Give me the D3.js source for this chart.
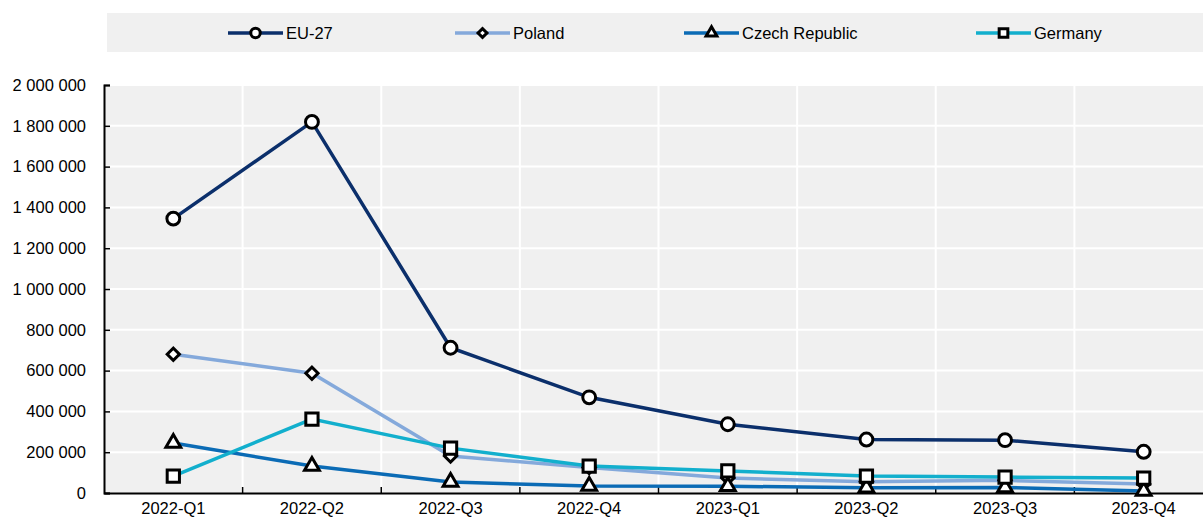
<!DOCTYPE html>
<html>
<head>
<meta charset="utf-8">
<script src="https://cdn.jsdelivr.net/npm/d3@7"></script>
<style>
  body { margin: 0; background: #fff; }
  text { font-family: "Liberation Sans", Arial, sans-serif; fill: #000; }
</style>
</head>
<body>
<div id="chart"></div>
<script>
// Data
const quarters = ["2022-Q1", "2022-Q2", "2022-Q3", "2022-Q4", "2023-Q1", "2023-Q2", "2023-Q3", "2023-Q4"];
const eu27 = [1345000, 1819000, 712000, 469000, 337000, 262000, 259000, 202000];
const poland = [680000, 587000, 181000, 125000, 73000, 55000, 62000, 44000];
const czech = [245000, 132000, 54000, 34000, 33000, 26000, 27000, 10000];
const germany = [83000, 362000, 220000, 132000, 108000, 83000, 78000, 73000];
const yTicks = [0, 200000, 400000, 600000, 800000, 1000000, 1200000, 1400000, 1600000, 1800000, 2000000];

// diamond = square turned 45 degrees
const series = [
    { name: "EU-27", values: eu27, color: "#0b2f6b", symbol: d3.symbolCircle, rot: 0, size: 130, legendSize: 70 },
    { name: "Poland", values: poland, color: "#84a9db", symbol: d3.symbolSquare, rot: 45, size: 75, legendSize: 40 },
    { name: "Czech Republic", values: czech, color: "#0b6bb5", symbol: d3.symbolTriangle, rot: 0, size: 95, legendSize: 50 },
    { name: "Germany", values: germany, color: "#12afcd", symbol: d3.symbolSquare, rot: 0, size: 150, legendSize: 75 },
];

const width = 1203;
const height = 518;
const margin = { top: 85, right: -10, bottom: 25, left: 104 };
const fontSize = 16.5;

const svg = d3.select("#chart")
    .append("svg")
    .attr("width", width)
    .attr("height", height);

// Scales
const x = d3.scaleBand()
    .domain(quarters)
    .range([margin.left, width - margin.right])
    .padding(0);

const y = d3.scaleLinear()
    .domain([0, 2000000])
    .range([height - margin.bottom, margin.top]);

// Plot background
svg.append("rect")
    .attr("x", margin.left)
    .attr("y", margin.top)
    .attr("width", width - margin.right - margin.left)
    .attr("height", y(0) - margin.top)
    .attr("fill", "#f0f0f0");

// Grid lines
svg.append("g")
    .selectAll("line")
    .data(yTicks.slice(1))
    .join("line")
    .attr("x1", margin.left)
    .attr("x2", width - margin.right)
    .attr("y1", d => y(d))
    .attr("y2", d => y(d))
    .attr("stroke", "#fff")
    .attr("stroke-width", 2);

svg.append("g")
    .selectAll("line")
    .data(quarters.slice(1))
    .join("line")
    .attr("x1", d => x(d))
    .attr("x2", d => x(d))
    .attr("y1", margin.top)
    .attr("y2", y(0))
    .attr("stroke", "#fff")
    .attr("stroke-width", 2);

// Axes
const fmt = d => d3.format(",")(d).replace(/,/g, " ");

const yAxis = svg.append("g")
    .attr("transform", `translate(${margin.left},0)`)
    .call(d3.axisLeft(y).tickValues(yTicks).tickFormat(fmt).tickSize(-6).tickPadding(18));
yAxis.attr("font-family", null).attr("font-size", fontSize);
yAxis.select(".domain").attr("stroke", "#000").attr("stroke-width", 2);
yAxis.selectAll(".tick line").attr("stroke", "#000").attr("stroke-width", 1.5);

const xAxis = svg.append("g")
    .attr("transform", `translate(0,${y(0)})`)
    .call(d3.axisBottom(x).tickSize(0).tickPadding(9));
xAxis.attr("font-family", null).attr("font-size", fontSize);
xAxis.select(".domain").attr("stroke", "#000").attr("stroke-width", 2);

// x tick marks at band boundaries, pointing up
svg.append("g")
    .selectAll("line")
    .data(quarters.slice(1))
    .join("line")
    .attr("x1", d => x(d))
    .attr("x2", d => x(d))
    .attr("y1", y(0))
    .attr("y2", y(0) - 6)
    .attr("stroke", "#000")
    .attr("stroke-width", 1.5);

// Lines
const line = d3.line()
    .x((d, i) => x(quarters[i]) + x.bandwidth() / 2)
    .y(d => y(d));

series.forEach(s => {
    svg.append("path")
        .datum(s.values)
        .attr("fill", "none")
        .attr("stroke", s.color)
        .attr("stroke-width", 3.5)
        .attr("d", line);
});

series.forEach(s => {
    svg.append("g")
        .selectAll("path")
        .data(s.values)
        .join("path")
        .attr("transform", (d, i) => `translate(${x(quarters[i]) + x.bandwidth() / 2},${y(d)}) rotate(${s.rot})`)
        .attr("d", d3.symbol().type(s.symbol).size(s.size))
        .attr("fill", "#fff")
        .attr("stroke", "#000")
        .attr("stroke-width", 3);
});

// Legend
svg.append("rect")
    .attr("x", 107)
    .attr("y", 13)
    .attr("width", width - 107)
    .attr("height", 39)
    .attr("fill", "#f0f0f0");

const legendX = [228, 455, 684, 976];
const legend = svg.append("g")
    .selectAll("g")
    .data(series)
    .join("g")
    .attr("transform", (d, i) => `translate(${legendX[i]},33)`);

legend.append("line")
    .attr("x1", 0)
    .attr("x2", 55)
    .attr("stroke", d => d.color)
    .attr("stroke-width", 3.5);

legend.append("path")
    .attr("transform", d => `translate(27.5,0) rotate(${d.rot})`)
    .attr("d", d => d3.symbol().type(d.symbol).size(d.legendSize)())
    .attr("fill", "#fff")
    .attr("stroke", "#000")
    .attr("stroke-width", 3);

legend.append("text")
    .attr("x", 58)
    .attr("dy", "0.35em")
    .attr("font-size", fontSize)
    .text(d => d.name);
</script>
</body>
</html>
